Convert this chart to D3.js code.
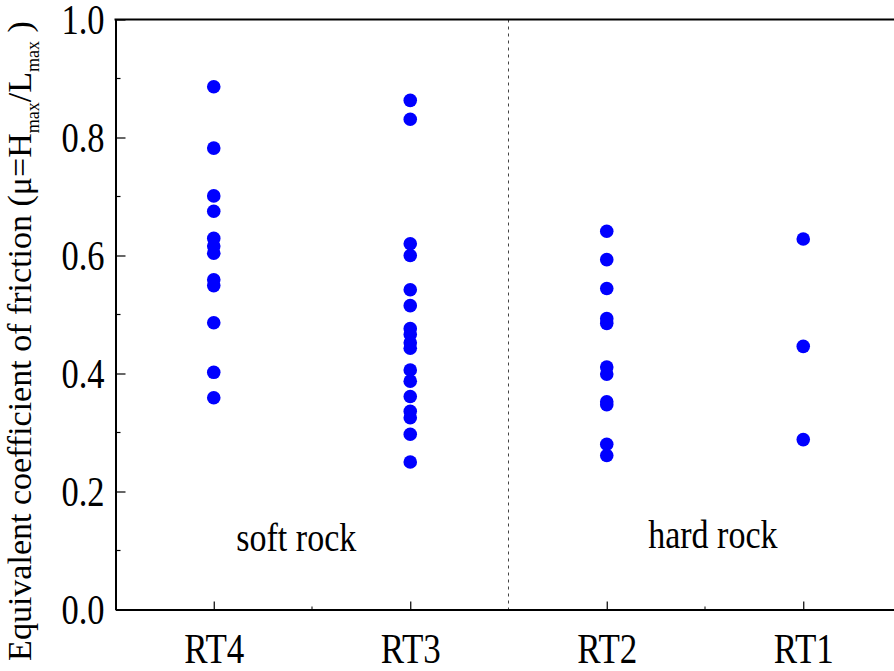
<!DOCTYPE html>
<html>
<head>
<meta charset="UTF-8">
<title>Equivalent coefficient of friction</title>
<script src="https://d3js.org/d3.v7.min.js"></script>
<style>
  body { margin: 0; background: #fff; }
  svg text { font-family: "Liberation Serif", "Times New Roman", serif; fill: #000; }
</style>
</head>
<body>
<svg width="894" height="671"></svg>
<script>
// categories and values
const categories = ["RT4", "RT3", "RT2", "RT1"];
const rt4 = [0.886, 0.782, 0.701, 0.675, 0.629, 0.616, 0.604, 0.559, 0.549, 0.486, 0.402, 0.359];
const rt3 = [0.863, 0.831, 0.620, 0.600, 0.542, 0.515, 0.476, 0.466, 0.452, 0.443,
             0.406, 0.387, 0.361, 0.336, 0.325, 0.297, 0.250];
const rt2 = [0.641, 0.593, 0.544, 0.493, 0.485, 0.411, 0.399, 0.352, 0.347, 0.280, 0.261];
const rt1 = [0.628, 0.446, 0.288];
const groups = [
  {label: "soft rock", at: 1.42, base: 551},
  {label: "hard rock", at: 3.54, base: 548}
];
const yTicks = [0, 0.2, 0.4, 0.6, 0.8, 1.0];

const series = [rt4, rt3, rt2, rt1];
const points = [];
series.forEach((vals, i) => vals.forEach(v => points.push({cat: i + 1, v})));

const svg = d3.select("svg");
const plotLeft = 115.5, plotTop = 19.5, plotBottom = 609.5;
const stretch = 1.2;   // the text in the figure is drawn a bit tall

const x = d3.scaleLinear().domain([0.5, 4.5]).range([plotLeft, 901.5]);
const y = d3.scaleLinear().domain([0, 1]).range([plotBottom, plotTop]);

// dashed divider between soft and hard rock
svg.append("line")
  .attr("x1", x(2.5)).attr("x2", x(2.5))
  .attr("y1", plotTop).attr("y2", plotBottom)
  .attr("stroke", "#444").attr("stroke-width", 1)
  .attr("stroke-dasharray", "3,4");

// y axis, inward ticks
const yAxis = d3.axisLeft(y).tickValues(yTicks).tickFormat(d3.format(".1f"))
  .tickSizeInner(-10).tickSizeOuter(0).tickPadding(11);
const gy = svg.append("g").attr("transform", `translate(${plotLeft},0)`).call(yAxis)
  .attr("font-family", null).attr("font-size", null);
gy.select(".domain").attr("stroke-width", 2);
gy.selectAll(".tick line").attr("stroke-width", 1.2);
gy.selectAll(".tick text")
  .attr("font-size", 34.5).attr("dy", "0.33em")
  .attr("transform", `scale(1,${stretch})`);
// minor y ticks
svg.append("g").selectAll("line")
  .data(d3.range(0.1, 1, 0.2))
  .join("line")
  .attr("x1", plotLeft).attr("x2", plotLeft + 5)
  .attr("y1", d => y(d)).attr("y2", d => y(d))
  .attr("stroke", "#000").attr("stroke-width", 1.2);

// x axis, inward ticks
const xAxis = d3.axisBottom(x).tickValues([1, 2, 3, 4]).tickFormat(d => categories[d - 1])
  .tickSizeInner(-8).tickSizeOuter(0).tickPadding(45);
const gx = svg.append("g").attr("transform", `translate(0,${plotBottom})`).call(xAxis)
  .attr("font-family", null).attr("font-size", null);
gx.select(".domain").attr("stroke-width", 2);
gx.selectAll(".tick line").attr("stroke-width", 1.2);
gx.selectAll(".tick text")
  .attr("font-size", 35).attr("dy", "0")
  .attr("transform", `scale(1,${stretch})`);
svg.append("g").selectAll("line")
  .data([1.5, 3.5])
  .join("line")
  .attr("x1", d => x(d)).attr("x2", d => x(d))
  .attr("y1", plotBottom).attr("y2", plotBottom - 3)
  .attr("stroke", "#000").attr("stroke-width", 1);

// top frame line
svg.append("line")
  .attr("x1", plotLeft - 1).attr("x2", 894)
  .attr("y1", plotTop).attr("y2", plotTop)
  .attr("stroke", "#000").attr("stroke-width", 2);

// points
svg.append("g").selectAll("circle")
  .data(points)
  .join("circle")
  .attr("cx", d => x(d.cat))
  .attr("cy", d => y(d.v))
  .attr("r", 6.8)
  .attr("fill", "#0000ff");

// group labels
svg.append("g").selectAll("text")
  .data(groups)
  .join("text")
  .attr("transform", d => `translate(${x(d.at)},${d.base}) scale(1,${stretch})`)
  .attr("text-anchor", "middle")
  .attr("font-size", 34)
  .text(d => d.label);

// y axis title with subscripts
const title = svg.append("text")
  .attr("transform", "translate(31,341) rotate(-90)")
  .attr("text-anchor", "middle")
  .attr("font-size", 34);
title.append("tspan").text("Equivalent coefficient of friction (μ=H");
title.append("tspan").attr("font-size", 18).attr("dy", 8).text("max");
title.append("tspan").attr("dy", -8).text("/L");
title.append("tspan").attr("font-size", 18).attr("dy", 8).text("max");
title.append("tspan").attr("dy", -8).text(" )");
</script>
</body>
</html>
